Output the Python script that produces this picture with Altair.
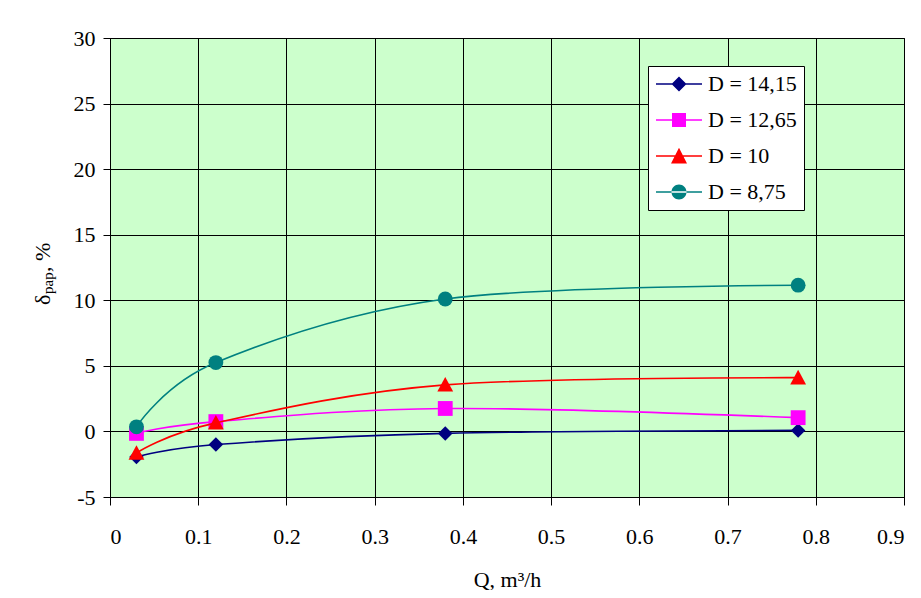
import altair as alt
import pandas as pd

# ---- data ----
Q = [0.03, 0.12, 0.38, 0.78]
series_names = ["D = 14,15", "D = 12,65", "D = 10", "D = 8,75"]
d_1415 = [-1.95, -1.0, -0.15, 0.08]
d_1265 = [-0.15, 0.75, 1.75, 1.05]
d_10 = [-1.65, 0.65, 3.55, 4.1]
d_875 = [0.35, 5.25, 10.1, 11.15]
colors = ["#000080", "#FF00FF", "#FF0000", "#008080"]
x_ticks = [0, 0.1, 0.2, 0.3, 0.4, 0.5, 0.6, 0.7, 0.8, 0.9]
y_ticks = [-5, 0, 5, 10, 15, 20, 25, 30]

series_values = [d_1415, d_1265, d_10, d_875]
rows = []
for name, vals in zip(series_names, series_values):
    for q, v in zip(Q, vals):
        rows.append({"Q": q, "delta": v, "D": name})
df = pd.DataFrame(rows)

FONT = "'Liberation Serif', 'Times New Roman', 'DejaVu Serif', serif"

marker_shapes = ["diamond", "square", "M0,-1L1,0.85L-1,0.85Z", "circle"]
marker_sizes = [210, 220, 250, 220]

# legend symbols: a short line with the marker in the middle (unit = 10 px)
bar = "M-2.3,-0.08H2.3V0.08H-2.3Z"
legend_paths = [
    bar + "M0,-0.75L0.75,0L0,0.75L-0.75,0Z",
    bar + "M-0.7,-0.7H0.7V0.7H-0.7Z",
    bar + "M0,-0.82L0.8,0.75L-0.8,0.75Z",
    bar + "M-0.75,0A0.75,0.75,0,1,0,0.75,0A0.75,0.75,0,1,0,-0.75,0Z",
]

x_enc = alt.X("Q:Q", scale=alt.Scale(domain=[0, 0.9], nice=False),
              axis=alt.Axis(values=x_ticks, format=".1~f", title="Q, m³/h",
                            tickSize=8, labelPadding=21, titlePadding=22))
y_enc = alt.Y("delta:Q", scale=alt.Scale(domain=[-5, 30], nice=False),
              axis=alt.Axis(values=y_ticks, labelExpr="datum.value + ''", title=None,
                            tickSize=7, labelPadding=8))

base = alt.Chart(df)
layers = []
for name, col, shp, sz in zip(series_names, colors, marker_shapes, marker_sizes):
    sub = base.transform_filter(alt.datum.D == name)
    layers.append(sub.mark_line(interpolate="cardinal", color=col, strokeWidth=1.6)
                  .encode(x=x_enc, y=y_enc))
    layers.append(sub.mark_point(filled=True, shape=shp, size=sz, color=col, opacity=1)
                  .encode(x=x_enc, y=y_enc))

leg = alt.Legend(title=None, orient="none", legendX=538, legendY=28,
                 fillColor="white", strokeColor="black", padding=7,
                 symbolSize=400, symbolStrokeWidth=0, symbolOffset=13,
                 symbolOpacity=1, labelOffset=18, labelFont=FONT, labelFontSize=22,
                 labelColor="black", rowPadding=14)

legend_layer = base.transform_filter(alt.datum.Q < 0).mark_point(
    filled=True, strokeWidth=0, opacity=1).encode(
    x=x_enc, y=y_enc,
    shape=alt.Shape("D:N", scale=alt.Scale(domain=series_names, range=legend_paths), legend=leg),
    fill=alt.Fill("D:N", scale=alt.Scale(domain=series_names, range=colors), legend=leg),
)
layers.append(legend_layer)


def ytitle(txt, x, y, size):
    return alt.Chart(pd.DataFrame({"t": [txt]})).mark_text(
        angle=270, align="left", baseline="alphabetic", font=FONT,
        fontSize=size, color="black").encode(text="t:N", x=alt.value(x), y=alt.value(y))


layers.append(ytitle("δ", -60, 267, 22))
layers.append(ytitle("pap", -57, 256, 15))
layers.append(ytitle(", %", -60, 234, 22))

chart = alt.layer(*layers).properties(
    width=794, height=459,
    autosize=alt.AutoSizeParams(type="none"),
    padding={"left": 102, "top": 30, "right": 9, "bottom": 93},
    background="white",
).configure_view(
    fill="#CCFFCC", stroke="black", strokeWidth=1
).configure_axis(
    grid=True, gridColor="black", gridOpacity=1, gridWidth=1,
    domainColor="black", tickColor="black",
    labelFont=FONT, labelFontSize=22, labelColor="black",
    titleFont=FONT, titleFontSize=22, titleFontWeight="normal", titleColor="black",
)

chart.save("out.html", embed_options={"renderer": "svg", "actions": False})
